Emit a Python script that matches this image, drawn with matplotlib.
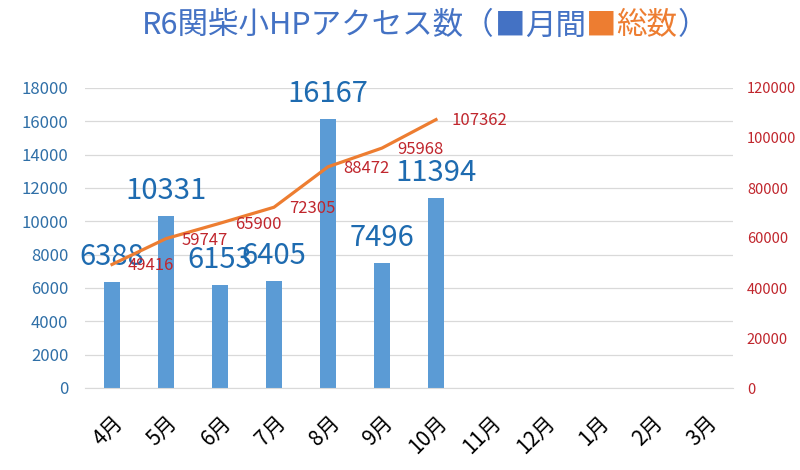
import matplotlib
matplotlib.use("Agg")
import matplotlib.pyplot as plt
import numpy as np

plt.rcParams["font.family"] = ["Noto Sans CJK JP", "DejaVu Sans"]

# data
months = ["4月", "5月", "6月", "7月", "8月", "9月", "10月", "11月", "12月", "1月", "2月", "3月"]
monthly = [6388, 10331, 6153, 6405, 16167, 7496, 11394]
total = [49416, 59747, 65900, 72305, 88472, 95968, 107362]

bar_color = "#5B9BD5"
line_color = "#ED7D31"
title_blue = "#4472C4"
label_blue = "#1E6BB0"
red = "#C0262D"

fig = plt.figure(figsize=(8, 4.7), dpi=100)
ax = fig.add_axes([85 / 800, 82 / 470, 648 / 800, 300 / 470])
ax2 = ax.twinx()

x = np.arange(len(months))
xm = x[:len(monthly)]

ax.bar(xm, monthly, width=0.31, color=bar_color, zorder=2)
ax.set_xlim(-0.5, len(months) - 0.5)
ax.set_ylim(0, 18000)
ax.set_yticks(np.arange(0, 18001, 2000))
ax.grid(axis="y", color="#D9D9D9", lw=0.9, zorder=0)
ax.set_axisbelow(True)
ax.tick_params(axis="y", length=0, pad=12, labelcolor="#2F6FA7", labelsize=12)
ax.set_xticks(x, months, rotation=45, ha="right", rotation_mode="anchor")
ax.tick_params(axis="x", length=0, pad=17, labelsize=15, labelcolor="black")

for s in ["top", "left", "right"]:
    ax.spines[s].set_visible(False)
    ax2.spines[s].set_visible(False)
ax.spines["bottom"].set_color("#D9D9D9")
ax2.spines["bottom"].set_visible(False)

for i, v in zip(xm, monthly):
    ax.annotate(str(v), (i, v), xytext=(0, 18), textcoords="offset points",
                ha="center", va="center", fontsize=21, color=label_blue, zorder=5)

ax2.plot(xm, total, color=line_color, lw=2.3, zorder=3)
ax2.set_ylim(0, 120000)
ax2.set_yticks(np.arange(0, 120001, 20000))
ax2.tick_params(axis="y", length=0, pad=10, labelcolor=red, labelsize=10.5)
for i, v in zip(xm, total):
    ax2.annotate(str(v), (i, v), xytext=(11, -1), textcoords="offset points",
                 ha="left", va="center", fontsize=12, color=red)

# title with coloured parts
parts = [("R6関柴小HPアクセス数（", title_blue), ("■", title_blue), ("月間", title_blue),
         ("■", line_color), ("総数", line_color), ("）", title_blue)]
fig.canvas.draw()
renderer = fig.canvas.get_renderer()
texts = []
widths = []
for s, c in parts:
    t = fig.text(0, 1 - 26 / 470, s, color=c, fontsize=22, va="center", ha="left")
    w = t.get_window_extent(renderer).width / fig.bbox.width
    texts.append(t)
    widths.append(w)
start = 425 / 800 - sum(widths) / 2
for t, w in zip(texts, widths):
    t.set_x(start)
    start += w

fig.savefig("out.png", dpi=100)
